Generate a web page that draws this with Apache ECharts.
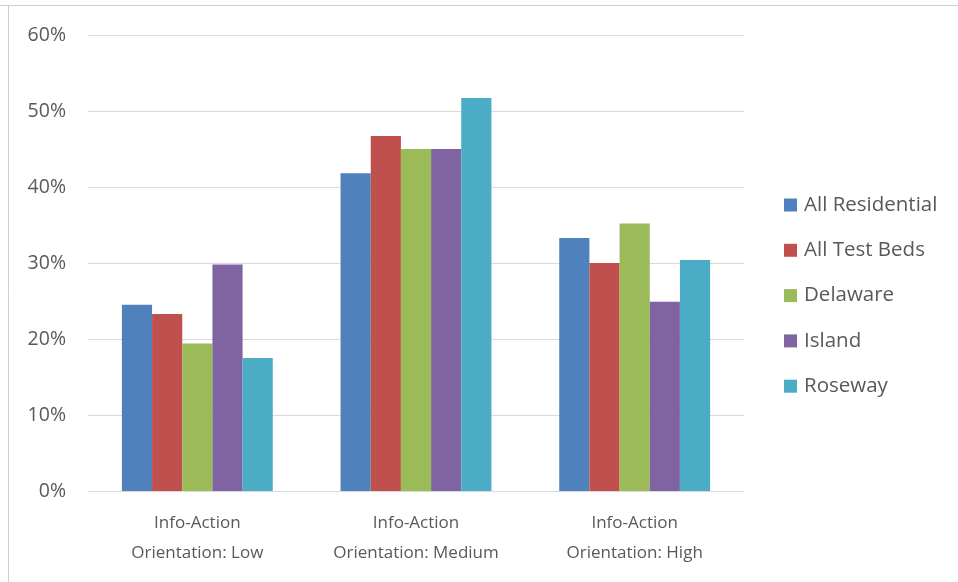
<!DOCTYPE html>
<html>
<head>
<meta charset="utf-8">
<script src="https://cdn.jsdelivr.net/npm/echarts@6/dist/echarts.min.js"></script>
<style>
  html, body { margin: 0; padding: 0; background: #fff; }
  #chart { width: 958px; height: 582px; }
</style>
</head>
<body>
<div id="chart"></div>
<script>
// Share of respondents by info-action orientation
const categories = ['Info-Action\nOrientation: Low', 'Info-Action\nOrientation: Medium', 'Info-Action\nOrientation: High'];
const seriesNames = ['All Residential', 'All Test Beds', 'Delaware', 'Island', 'Roseway'];
const allResidential = [24.5, 41.8, 33.3];
const allTestBeds = [23.3, 46.7, 30.0];
const delaware = [19.4, 45.0, 35.2];
const island = [29.8, 45.0, 24.9];
const roseway = [17.5, 51.7, 30.4];
const yTicks = [0, 10, 20, 30, 40, 50, 60];

const seriesValues = [allResidential, allTestBeds, delaware, island, roseway];
const colors = ['#4F81BD', '#C0504D', '#9BBB59', '#8064A2', '#4BACC6'];
const font = '"Open Sans", "DejaVu Sans", sans-serif';

const chart = echarts.init(document.getElementById('chart'));
chart.setOption({
  animation: false,
  color: colors,
  grid: { left: 88, right: 214, top: 35, bottom: 91, containLabel: false },
  legend: {
    orient: 'vertical',
    left: 784,
    top: 194.5,
    padding: 0,
    itemWidth: 13,
    itemHeight: 13,
    itemGap: 24.3,
    icon: 'rect',
    textStyle: { fontFamily: font, fontSize: 20.5, lineHeight: 20, color: '#595959', padding: [0, 0, 0, 2] },
    data: seriesNames
  },
  xAxis: {
    type: 'category',
    data: categories,
    axisLine: { lineStyle: { color: '#d9d9d9', width: 1 } },
    axisTick: { show: false },
    axisLabel: { fontFamily: font, fontSize: 17, color: '#595959', lineHeight: 30, margin: 17 }
  },
  yAxis: {
    type: 'value',
    min: yTicks[0],
    max: yTicks[yTicks.length - 1],
    interval: 10,
    axisLine: { show: false },
    axisTick: { show: false },
    splitLine: { lineStyle: { color: '#d9d9d9', width: 1 } },
    axisLabel: { fontFamily: font, fontSize: 19.5, color: '#595959', margin: 22, formatter: v => v + '%' }
  },
  series: seriesNames.map((name, i) => ({
    name,
    type: 'bar',
    data: seriesValues[i],
    barGap: '0%',
    barCategoryGap: '31%'
  })),
  graphic: [
    { type: 'line', shape: { x1: 0, y1: 5.5, x2: 958, y2: 5.5 }, style: { stroke: '#cfcfcf', lineWidth: 1 } },
    { type: 'line', shape: { x1: 8.5, y1: 5, x2: 8.5, y2: 582 }, style: { stroke: '#cfcfcf', lineWidth: 1 } }
  ]
});
</script>
</body>
</html>
